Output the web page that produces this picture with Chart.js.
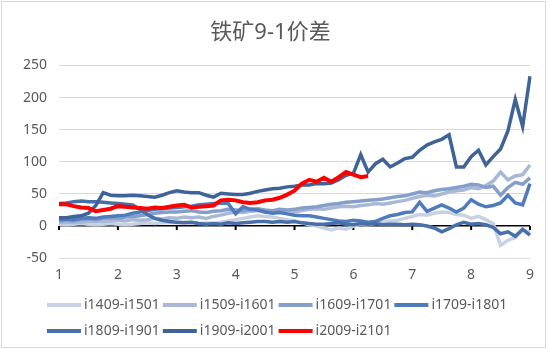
<!DOCTYPE html>
<html lang="zh">
<head>
<meta charset="UTF-8">
<title>铁矿9-1价差</title>
<script src="https://cdn.jsdelivr.net/npm/chart.js"></script>
<style>
  html, body { margin: 0; padding: 0; background: #fff; }
  #wrap { width: 550px; height: 349px; }
</style>
</head>
<body>
<div id="wrap"><canvas id="spread" width="550" height="349"></canvas></div>
<script>
// x categories: trading days, labelled by month 1..9 like the Excel sheet
const xLabels = [
  '1','','','','','','','',
  '2','','','','','','','',
  '3','','','','','','','',
  '4','','','','','','','',
  '5','','','','','','','',
  '6','','','','','','','',
  '7','','','','','','','',
  '8','','','','','','','',
  '9'
];

const seriesNames = ['i1409-i1501', 'i1509-i1601', 'i1609-i1701', 'i1709-i1801',
                     'i1809-i1901', 'i1909-i2001', 'i2009-i2101'];
const seriesColors = ['#c8d1e4', '#a9b8d7', '#859fcb', '#4f7bbd', '#4870a8', '#3f6399', '#ff0000'];

const s1409 = [3,2,3,4,3,2,3,4, 3,2,3,4,5,4,5,6, 5,6,5,4,5,4,6,8, 10,12,14,16,15,14,12,10,
               8,5,2,0,-3,-6,-3,-5, 0,3,2,4,6,8,9,12, 15,18,17,20,22,21,18,17, 12,15,10,4,-30,-22,-18,-6, -10];
const s1509 = [5,6,5,6,7,8,7,8, 9,8,10,9,10,12,11,13, 12,14,13,14,12,15,17,20, 22,21,23,24,22,21,23,24,
               22,24,26,27,26,28,30,31, 30,32,33,35,34,36,38,40, 43,46,48,47,50,53,55,56, 60,58,63,70,84,72,78,80, 95];
const s1609 = [8,9,8,10,11,10,12,13, 12,14,15,16,18,20,21,22, 22,23,24,22,21,23,24,26, 25,24,26,27,25,24,26,25,
               26,28,29,30,32,34,35,37, 38,39,40,41,42,44,46,47, 50,53,52,55,57,58,60,62, 65,64,60,62,48,60,68,65, 75];
const s1709 = [10,11,10,12,13,12,14,15, 16,17,20,22,24,26,27,28, 29,30,31,33,34,35,36,35, 19,30,26,25,22,20,21,19,
               17,16,16,14,12,10,8,7, 9,8,6,7,12,16,18,21, 22,37,23,28,33,28,22,28, 41,34,30,32,36,48,36,33, 66];
const s1809 = [35,36,38,39,38,38,37,36, 35,34,33,26,18,12,9,7, 6,5,6,4,3,4,3,5, 4,5,6,7,7,6,7,6,
               7,5,4,3,3,4,5,3, 2,4,3,4,2,3,3,2, 3,2,0,-3,-9,-4,2,6, 3,4,2,-2,-12,-9,-16,-5, -14];
const s1909 = [13,13,15,16,20,32,52,48, 47,47,48,47,46,45,48,52, 55,53,52,52,48,45,51,50, 49,49,51,54,56,58,59,61,
               62,64,64,66,66,67,72,79, 82,111,84,97,104,92,98,105, 107,118,126,131,135,142,92,92, 108,118,95,108,120,148,197,155, 233];
const s2009 = [34,34,31,29,28,23,25,27, 31,30,29,28,27,29,28,30, 32,33,29,30,31,32,40,41, 40,37,36,37,40,41,44,49,
               55,66,72,69,75,69,76,84, 80,76,78];

const seriesData = [s1409, s1509, s1609, s1709, s1809, s1909, s2009];

const textColor = '#595959';
const fontFamily = "'Noto Sans', 'Noto Sans CJK SC', sans-serif";

// black tick marks under the zero line, at the labelled categories
const zeroTicks = {
  id: 'zeroTicks',
  beforeDatasetsDraw(chart) {
    const { ctx, scales: { x, y } } = chart;
    const y0 = y.getPixelForValue(0);
    ctx.save();
    ctx.fillStyle = '#000';
    xLabels.forEach((lab, i) => {
      if (lab === '') return;
      const px = x.getPixelForValue(i);
      ctx.fillRect(px - 1, y0, 2, 4);
    });
    ctx.restore();
  }
};

// Excel style legend: thick line swatch + label, 4 per row
const lineLegend = {
  id: 'lineLegend',
  afterDraw(chart) {
    const ctx = chart.ctx;
    ctx.save();
    ctx.font = '14px ' + fontFamily;
    ctx.textBaseline = 'middle';
    ctx.textAlign = 'left';
    let x = 47, y = 305;
    chart.data.datasets.forEach((ds, i) => {
      if (i === 4) { x = 47; y += 26; }
      ctx.fillStyle = ds.borderColor;
      ctx.fillRect(x, y - 2, 34, 4);
      ctx.fillStyle = textColor;
      ctx.fillText(ds.label, x + 37, y);
      x += 37 + ctx.measureText(ds.label).width + 3;
    });
    // chart frame
    ctx.strokeStyle = '#d9d9d9';
    ctx.lineWidth = 1;
    ctx.strokeRect(1.5, 1.5, 544, 346);
    ctx.restore();
  }
};

new Chart(document.getElementById('spread'), {
  type: 'line',
  data: {
    labels: xLabels,
    datasets: seriesNames.map((name, k) => ({
      label: name,
      data: seriesData[k],
      borderColor: seriesColors[k],
      backgroundColor: seriesColors[k],
      borderWidth: k === 6 ? 4 : 3.5,
      pointRadius: 0,
      tension: 0,
      fill: false,
      order: 6 - k
    }))
  },
  options: {
    responsive: false,
    animation: false,
    layout: { padding: { left: 11, right: 20, top: 0, bottom: 58 } },
    plugins: {
      legend: { display: false },
      tooltip: { enabled: false },
      title: {
        display: true,
        text: '铁矿9-1价差',
        color: textColor,
        font: { family: fontFamily, size: 22, weight: 'normal' },
        padding: { top: 20, bottom: 19 }
      }
    },
    scales: {
      x: {
        type: 'category',
        grid: { display: false, drawTicks: false },
        border: { display: false },
        ticks: {
          autoSkip: false,
          maxRotation: 0,
          padding: 8,
          color: textColor,
          font: { family: fontFamily, size: 14 }
        }
      },
      y: {
        min: -50,
        max: 250,
        grid: {
          drawTicks: false,
          color: ctx => ctx.tick && ctx.tick.value === 0 ? '#000' : '#d9d9d9',
          lineWidth: ctx => ctx.tick && ctx.tick.value === 0 ? 1.5 : 1
        },
        border: { display: false },
        ticks: {
          stepSize: 50,
          padding: 12,
          color: textColor,
          font: { family: fontFamily, size: 14 }
        }
      }
    }
  },
  plugins: [zeroTicks, lineLegend]
});
</script>
</body>
</html>
